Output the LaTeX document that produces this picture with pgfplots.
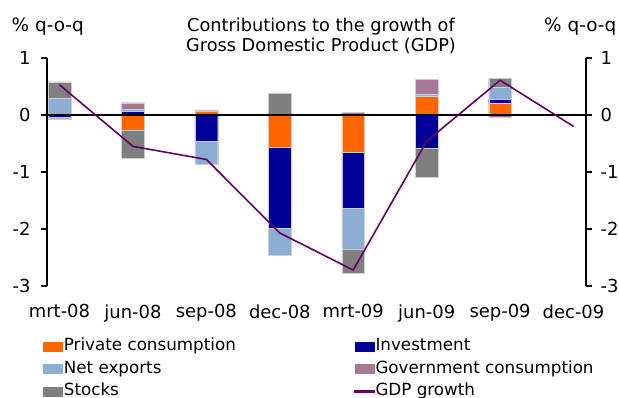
\documentclass[border=0pt]{standalone}
\usepackage{pgfplots}
\pgfplotsset{compat=1.18}
\usepackage{pgfplotstable}
\usepackage{fontspec}
\setmainfont{DejaVu Sans}
\definecolor{cpc}{HTML}{FF6600}
\definecolor{cinv}{HTML}{000099}
\definecolor{cnx}{HTML}{8CAED3}
\definecolor{cgov}{HTML}{A87898}
\definecolor{cst}{HTML}{7F7F7F}
\definecolor{cgdp}{HTML}{660066}

\pgfplotstableread{
x pc inv nx gov st
0 0 0 0.30 0 0.28
1 0 0.06 0.035 0.12 0
2 0.06 0 0 0.03 0
3 0 0 0 0 0.39
4 0 0 0 0.05 0
5 0.33 0 0.04 0.25 0
6 0.21 0.06 0.21 0 0.16
}\postab

\pgfplotstableread{
x pc inv nx gov st
0 0 -0.04 0 -0.025 0
1 -0.27 0 0 0 -0.49
2 0 -0.46 -0.40 0 0
3 -0.56 -1.43 -0.47 0 0
4 -0.66 -0.98 -0.72 0 -0.41
5 0 -0.59 0 0 -0.50
6 0 0 0 -0.035 0
}\negtab

\pgfplotstableread{
x g
0 0.53
1 -0.55
2 -0.78
3 -2.07
4 -2.72
5 -0.46
6 0.61
7 -0.20
}\gdptab

\pgfplotsset{
  base/.style={scale only axis, width=539bp, height=228bp,
    at={(47bp,112bp)}, anchor=south west,
    xmin=-0.17, xmax=7.17, ymin=-3, ymax=1},
  bars/.style={ybar stacked, bar width=0.31},
  seg/.style={fill=#1, draw=white!80!black, line width=0.4bp},
  sw/.style={legend image code/.code={\fill[#1] (0bp,-4.5bp) rectangle (19bp,4.5bp);}},
  lineleg/.style={legend image code/.code={\fill[cgdp] (0bp,-1bp) rectangle (19bp,1bp);}},
}

\begin{document}
\begin{tikzpicture}
\path[use as bounding box] (0,0) rectangle (619bp,398bp);

% negative parts and left axis
\begin{axis}[base, bars,
  axis y line*=left, axis x line*=bottom,
  x axis line style={draw=none},
  y axis line style={line width=1.1bp},
  ytick={-3,-2,-1,0,1},
  tick align=outside, major tick length=6bp,
  ytick style={line width=1.1bp, black},
  xtick={0,1,2,3,4,5,6,7},
  xticklabels={mrt-08,jun-08,sep-08,dec-08,mrt-09,jun-09,sep-09,dec-09},
  xtick style={draw=none},
  xticklabel style={yshift=-9bp},
  yticklabel style={xshift=-7bp},
  tick label style={font=\fontsize{18}{21}\selectfont},
  /pgf/number format/assume math mode=true,
]
\addplot[seg=cpc] table[x=x,y=pc]{\negtab};
\addplot[seg=cinv] table[x=x,y=inv]{\negtab};
\addplot[seg=cnx] table[x=x,y=nx]{\negtab};
\addplot[seg=cgov] table[x=x,y=gov]{\negtab};
\addplot[seg=cst] table[x=x,y=st]{\negtab};
\end{axis}

% positive parts
\begin{axis}[base, bars, hide axis]
\addplot[seg=cpc] table[x=x,y=pc]{\postab};
\addplot[seg=cinv] table[x=x,y=inv]{\postab};
\addplot[seg=cnx] table[x=x,y=nx]{\postab};
\addplot[seg=cgov] table[x=x,y=gov]{\postab};
\addplot[seg=cst] table[x=x,y=st]{\postab};
\end{axis}

% right axis, zero line, GDP line, legend
\begin{axis}[base,
  axis y line*=right, axis x line=none,
  y axis line style={line width=1.1bp},
  ytick={-3,-2,-1,0,1},
  tick align=outside, major tick length=6bp,
  ytick style={line width=1.1bp, black},
  yticklabel style={xshift=5bp},
  tick label style={font=\fontsize{18}{21}\selectfont},
  /pgf/number format/assume math mode=true,
  legend columns=2,
  legend style={at={(-0.0069,-0.2268)}, anchor=north west, draw=none, fill=none,
    inner sep=0pt, font=\fontsize{16.8}{20}\selectfont, row sep=5.5bp,
    nodes={inner xsep=1bp, inner ysep=0pt, text height=13bp, text depth=4bp},
    /tikz/every even column/.append style={column sep=117bp}},
  legend cell align=left,
]
\addlegendimage{sw=cpc}
\addlegendentry{Private consumption}
\addlegendimage{sw=cinv}
\addlegendentry{Investment}
\addlegendimage{sw=cnx}
\addlegendentry{Net exports}
\addlegendimage{sw=cgov}
\addlegendentry{Government consumption}
\addlegendimage{sw=cst}
\addlegendentry{Stocks}
\draw[black, line width=1.1bp] (axis cs:-0.17,0) -- (axis cs:7.17,0);
\addplot[cgdp, line width=1.6bp, mark=none, lineleg] table[x=x,y=g]{\gdptab};
\addlegendentry{GDP growth}
\end{axis}

\node[anchor=base, font=\fontsize{17.8}{21}\selectfont] at (321bp,366.3bp) {Contributions to the growth of};
\node[anchor=base, font=\fontsize{17.8}{21}\selectfont] at (321bp,346.3bp) {Gross Domestic Product (GDP)};
\node[anchor=base west, inner sep=0pt, font=\fontsize{18.5}{21}\selectfont] at (11.5bp,366.3bp) {\% q-o-q};
\node[anchor=base west, inner sep=0pt, font=\fontsize{18.5}{21}\selectfont] at (544bp,366.3bp) {\% q-o-q};
\end{tikzpicture}
\end{document}
